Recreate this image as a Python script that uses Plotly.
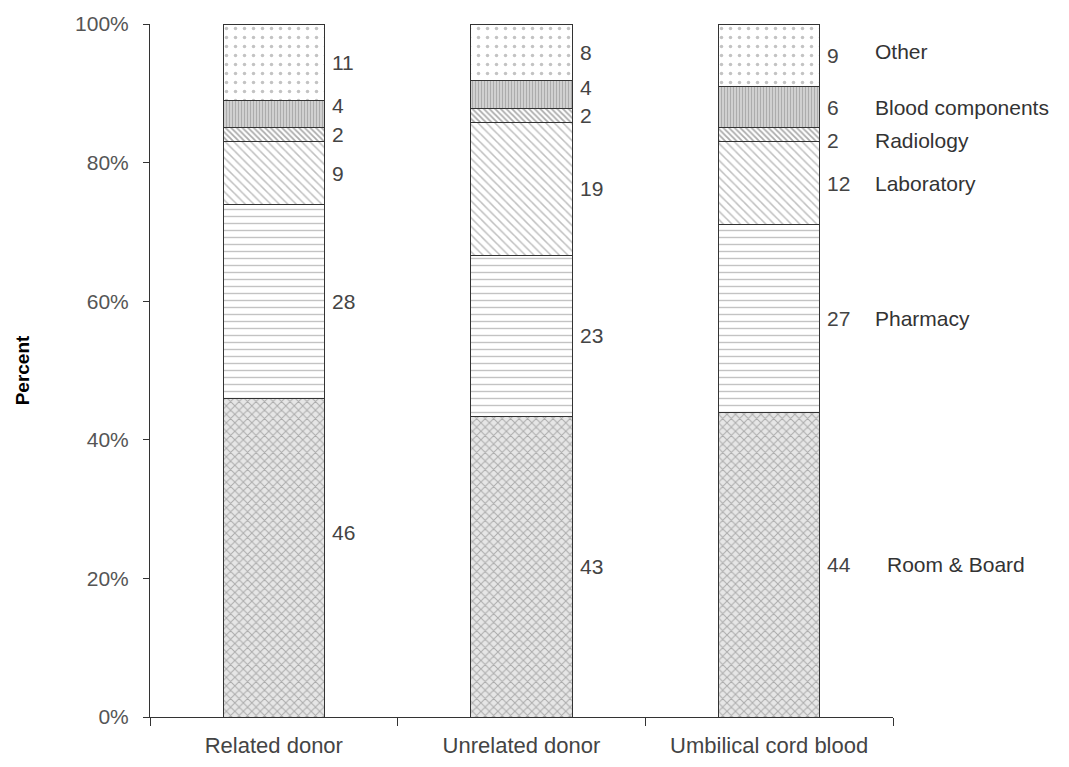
import plotly.graph_objects as go

categories = ["Related donor", "Unrelated donor", "Umbilical cord blood"]
segments = ["Room & Board", "Pharmacy", "Laboratory", "Radiology", "Blood components", "Other"]
room_board = [46, 43, 44]
pharmacy = [28, 23, 27]
laboratory = [9, 19, 12]
radiology = [2, 2, 2]
blood_components = [4, 4, 6]
other = [11, 8, 9]
series = [room_board, pharmacy, laboratory, radiology, blood_components, other]

FONT = "Liberation Sans, Arial, sans-serif"

# styles
patterns = [
    dict(shape="x", size=6, solidity=0.3, fgcolor="#707070", bgcolor="#e6e6e6"),
    dict(shape="-", size=7, solidity=0.2, fgcolor="#888888", bgcolor="white"),
    dict(shape="\\", size=6, solidity=0.25, fgcolor="#808080", bgcolor="white"),
    dict(shape="\\", size=4, solidity=0.45, fgcolor="#555555", bgcolor="white"),
    dict(shape="|", size=3, solidity=0.35, fgcolor="#888888", bgcolor="#d0d0d0"),
    dict(shape=".", size=9, solidity=0.12, fgcolor="#888888", bgcolor="white"),
]
# manual label nudges (px, positive = up) for readability as in the original
nudge = {(0, 0): 25, (0, 4): 9, (1, 4): 7, (2, 3): -6}

fig = go.Figure()
for s, name in enumerate(segments):
    fig.add_trace(go.Bar(
        x=categories, y=series[s], name=name,
        marker=dict(color="white", pattern=patterns[s],
                    line=dict(color="#333333", width=1)),
        showlegend=False,
    ))

annotations = []
font_num = dict(family=FONT, size=21, color="#444444")
for c, cat in enumerate(categories):
    total = sum(series[s][c] for s in range(len(segments)))
    cum = 0
    for s in range(len(segments)):
        v = series[s][c]
        mid = (cum + v / 2) / total * 100
        cum += v
        annotations.append(dict(
            x=cat, y=mid, xref="x", yref="y", text=str(v), showarrow=False,
            xanchor="left", yanchor="middle", xshift=56,
            yshift=nudge.get((c, s), 0), font=font_num,
        ))

# segment names beside the last bar
last = len(categories) - 1
total = sum(series[s][last] for s in range(len(segments)))
cum = 0
for s, name in enumerate(segments):
    v = series[s][last]
    mid = (cum + v / 2) / total * 100
    cum += v
    annotations.append(dict(
        x=categories[last], y=mid, xref="x", yref="y", text=name, showarrow=False,
        xanchor="left", yanchor="middle",
        xshift=116 if s == 0 else 104,
        yshift=nudge.get((last, s), 0) + (4 if s == 5 else 0),
        font=dict(family=FONT, size=21, color="#333333"),
    ))

# the page body has an 8px default margin, so the figure is sized to fit the window
fig.update_layout(
    barmode="stack", barnorm="percent", bargap=0.59,
    width=1061, height=759,
    margin=dict(l=142, r=176, t=16, b=50, autoexpand=False),
    plot_bgcolor="white", paper_bgcolor="white",
    annotations=annotations,
    xaxis=dict(
        range=[-0.5, 2.5], automargin=False,
        showline=True, linecolor="#333333", linewidth=1,
        ticks="outside", tickson="boundaries", ticklen=8, tickcolor="#333333",
        ticklabelstandoff=9,
        tickfont=dict(family=FONT, size=22, color="#444444"),
        showgrid=False,
    ),
    yaxis=dict(
        range=[0, 100], tickvals=[0, 20, 40, 60, 80, 100], automargin=False,
        ticktext=["0%", "20%", "40%", "60%", "80%", "100%"],
        showline=True, linecolor="#333333", linewidth=1,
        ticks="outside", ticklen=6, tickcolor="#333333", ticklabelstandoff=10,
        tickfont=dict(family=FONT, size=21, color="#555555"),
        showgrid=False, zeroline=False,
        title=dict(text="<b>Percent</b>", standoff=40,
                   font=dict(family=FONT, size=19, color="black")),
    ),
)

fig.write_html("out.html")
